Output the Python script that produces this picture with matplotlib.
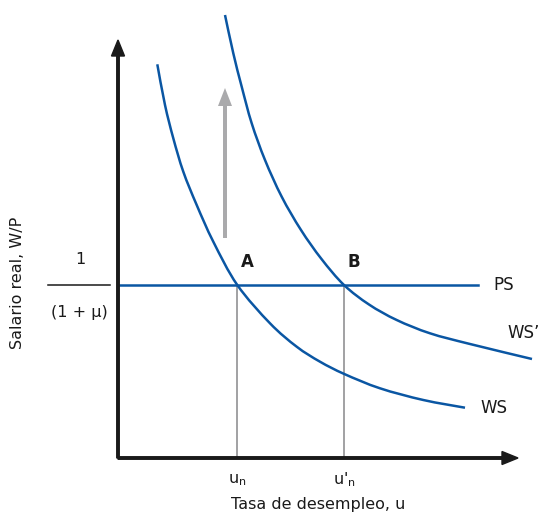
import matplotlib
matplotlib.use('Agg')
import matplotlib.pyplot as plt
import numpy as np
from matplotlib.path import Path
from matplotlib.patches import PathPatch

# curve readings (u, W/P) in chart units, origin at the axes corner
ws_u = [39.3, 47, 55.3, 65.3, 78.7, 95.3, 119.3, 152, 178.7, 202, 226.3, 262, 305.3, 347]
ws_w = [393.7, 353, 319.7, 286.3, 253, 216.3, 173, 134.7, 111.3, 96.3, 84, 69.7, 58, 50.3]

ws2_u = [107, 115.3, 123.7, 133.7, 147, 163.7, 183, 203.5, 226, 251, 278.7, 312, 352, 414]
ws2_w = [443, 404.7, 371.3, 334.7, 298, 261.3, 228, 199, 173, 153.5, 138, 124.7, 114, 99]

ps_level = 173
ps_u = [0, 360]
u_n = 119
u_n2 = 226

labels_pts = ["A", "B"]

blue = '#0a56a3'
gray = '#9a9a9c'
arrow_gray = '#aaaaac'
ink = '#1a1a1a'

plt.rcParams['font.family'] = ['DejaVu Sans']
plt.rcParams['mathtext.default'] = 'regular'


def smooth_path(xs, ys):
    # cubic bezier through the read points (catmull-rom style handles)
    p = np.column_stack([xs, ys])
    verts = [p[0]]
    codes = [Path.MOVETO]
    n = len(p)
    for i in range(n - 1):
        p0 = p[i - 1] if i > 0 else p[i]
        p3 = p[i + 2] if i + 2 < n else p[i + 1]
        c1 = p[i] + (p[i + 1] - p0) / 6
        c2 = p[i + 1] - (p3 - p[i]) / 6
        verts += [c1, c2, p[i + 1]]
        codes += [Path.CURVE4] * 3
    return Path(verts, codes)


fig = plt.figure(figsize=(5.41, 5.15), dpi=100)
ax = fig.add_axes([0, 0, 1, 1])
ax.set_xlim(-118, 423)
ax.set_ylim(-57, 458)
ax.axis('off')

# axes with arrow heads
ax.arrow(0, 0, 0, 418, width=2.5, head_width=13, head_length=16,
         length_includes_head=True, color=ink, zorder=3)
ax.arrow(0, 0, 400, 0, width=2.5, head_width=13, head_length=16,
         length_includes_head=True, color=ink, zorder=3)

# vertical guides
ax.plot([u_n, u_n], [0, ps_level], color=gray, lw=1.3, zorder=1)
ax.plot([u_n2, u_n2], [0, ps_level], color=gray, lw=1.3, zorder=1)

# curves
ax.plot(ps_u, [ps_level, ps_level], color=blue, lw=1.8, zorder=2)
for xs, ys in [(ws_u, ws_w), (ws2_u, ws2_w)]:
    ax.add_patch(PathPatch(smooth_path(xs, ys), facecolor='none',
                           edgecolor=blue, lw=1.8, zorder=2))

# shift arrow
ax.arrow(107, 220, 0, 150, width=4, head_width=14, head_length=18,
         length_includes_head=True, color=arrow_gray, lw=0, zorder=2)

# labels
ax.text(u_n + 10, 196, labels_pts[0], fontsize=12, fontweight='bold',
        ha='center', va='center', color=ink)
ax.text(u_n2 + 10, 196, labels_pts[1], fontsize=12, fontweight='bold',
        ha='center', va='center', color=ink)
ax.text(375, ps_level, 'PS', fontsize=12, ha='left', va='center', color=ink)
ax.text(389, 125, 'WS\u2019', fontsize=12, ha='left', va='center', color=ink)
ax.text(362, 50, 'WS', fontsize=12, ha='left', va='center', color=ink)

ax.text(u_n, -22, 'u$_{n}$', fontsize=11.5, ha='center', va='center', color=ink)
ax.text(u_n2, -22, "u'$_{n}$", fontsize=11.5, ha='center', va='center', color=ink)
ax.text(200, -47, 'Tasa de desempleo, u', fontsize=11.5, ha='center', va='center',
        color=ink)
ax.text(-100, 175, 'Salario real, W/P', fontsize=11.5, rotation=90, ha='center',
        va='center', color=ink)

# 1/(1+mu) tick label
ax.text(-38, 198, '1', fontsize=11.5, ha='center', va='center', color=ink)
ax.plot([-70, -8], [173, 173], color=ink, lw=1.1)
ax.text(-39, 146, '(1 + \u03bc)', fontsize=11.5, ha='center', va='center', color=ink)

fig.savefig('out.png', dpi=100)
